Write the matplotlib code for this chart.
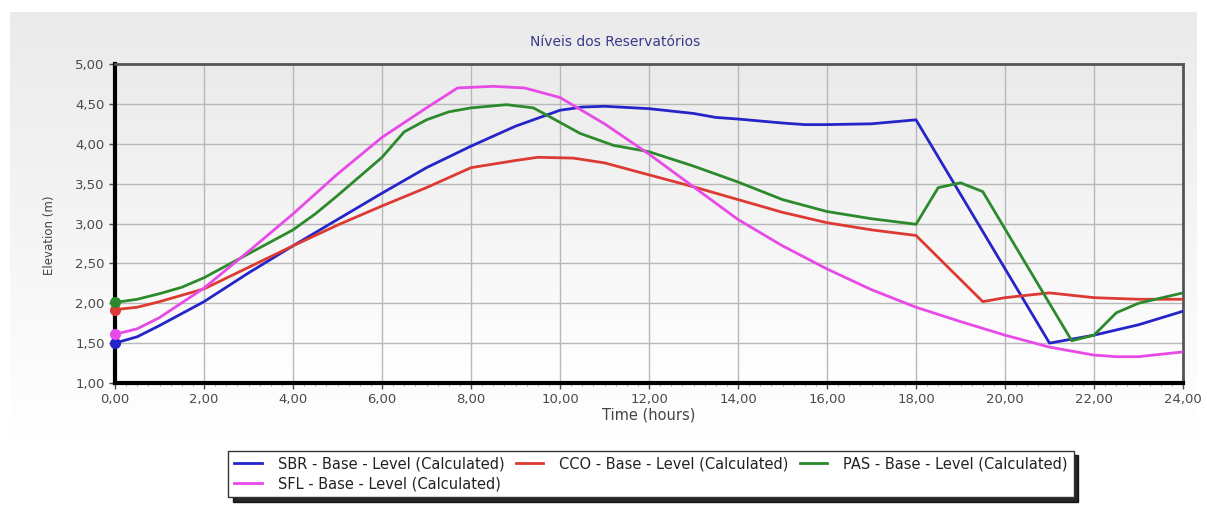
import numpy as np
import matplotlib
matplotlib.use('Agg')
import matplotlib.pyplot as plt
from matplotlib.ticker import FuncFormatter, MultipleLocator

# dados
t_sbr = [0, 0.5, 1, 2, 3, 4, 5, 6, 7, 8, 9, 10, 10.5, 11, 12, 13, 13.5, 14, 15, 15.5, 16, 17, 18, 21, 22, 23, 24]
sbr = [1.50, 1.58, 1.72, 2.02, 2.38, 2.72, 3.05, 3.38, 3.70, 3.97, 4.22, 4.42, 4.46, 4.47, 4.44, 4.38, 4.33, 4.31, 4.26, 4.24, 4.24, 4.25, 4.30, 1.50, 1.60, 1.73, 1.90]

t_cco = [0, 0.5, 1, 2, 3, 4, 5, 6, 7, 8, 9, 9.5, 10.3, 11, 12, 13, 14, 15, 16, 17, 18, 19.5, 20, 21, 22, 23, 24]
cco = [1.92, 1.95, 2.02, 2.18, 2.45, 2.72, 2.98, 3.22, 3.45, 3.70, 3.79, 3.83, 3.82, 3.76, 3.61, 3.46, 3.30, 3.14, 3.01, 2.92, 2.85, 2.02, 2.07, 2.13, 2.07, 2.05, 2.05]

t_pas = [0, 0.5, 1, 1.5, 2, 3, 4, 4.5, 5, 6, 6.5, 7, 7.5, 8, 8.8, 9.4, 9.7, 10.45, 11.2, 12, 13, 14, 15, 16, 17, 18, 18.5, 19, 19.5, 21.5, 22, 22.5, 23, 24]
pas = [2.01, 2.05, 2.12, 2.20, 2.32, 2.62, 2.92, 3.12, 3.35, 3.83, 4.15, 4.30, 4.40, 4.45, 4.49, 4.45, 4.36, 4.13, 3.98, 3.90, 3.72, 3.52, 3.30, 3.15, 3.06, 2.99, 3.45, 3.51, 3.40, 1.53, 1.60, 1.88, 2.00, 2.13]

t_sfl = [0, 0.5, 1, 2, 3, 4, 5, 6, 7, 7.7, 8.5, 9.2, 10, 11, 12, 13, 14, 15, 16, 17, 18, 19, 20, 21, 22, 22.5, 23, 24]
sfl = [1.61, 1.68, 1.82, 2.19, 2.65, 3.12, 3.62, 4.08, 4.45, 4.70, 4.72, 4.70, 4.58, 4.25, 3.87, 3.46, 3.05, 2.72, 2.43, 2.17, 1.95, 1.77, 1.60, 1.45, 1.35, 1.33, 1.33, 1.39]

nomes = ['SBR - Base - Level (Calculated)', 'CCO - Base - Level (Calculated)',
         'PAS - Base - Level (Calculated)', 'SFL - Base - Level (Calculated)']
cores = ['#2424c8', '#dc3a32', '#2c8a2c', '#e84ae8']

plt.rcParams['font.family'] = ['DejaVu Sans']

fig = plt.figure(figsize=(12.07, 5.15), dpi=100)
fig.patch.set_facecolor('white')

# fundo cinza com degrade
bg = fig.add_axes([10 / 1207, 1 - 440 / 515, 1187 / 1207, 428 / 515], zorder=-10)
grad = np.linspace(0.92, 1.0, 256).reshape(-1, 1)
bg.imshow(np.dstack([grad, grad, grad]), aspect='auto', extent=[0, 1, 0, 1])
bg.axis('off')

ax = fig.add_axes([115 / 1207, 1 - 383 / 515, 1068 / 1207, 319 / 515])
ax.set_facecolor('none')
g2 = np.linspace(0.92, 1.0, 256).reshape(-1, 1)
ax.imshow(np.dstack([g2, g2, g2]), aspect='auto', extent=[0, 24, 1, 5], zorder=0)

series = [(t_sbr, sbr), (t_cco, cco), (t_pas, pas), (t_sfl, sfl)]
linhas = []
for (t, v), nome, cor in zip(series, nomes, cores):
    l, = ax.plot(t, v, color=cor, lw=2, label=nome, zorder=3)
    ax.plot(t[0], v[0], 'o', color=cor, ms=7, zorder=5, clip_on=False)
    linhas.append(l)

ax.set_xlim(0, 24)
ax.set_ylim(1, 5)
ax.xaxis.set_major_locator(MultipleLocator(2))
ax.xaxis.set_minor_locator(MultipleLocator(0.25))
ax.yaxis.set_major_locator(MultipleLocator(0.5))
fmt = FuncFormatter(lambda v, p: f'{v:.2f}'.replace('.', ','))
ax.xaxis.set_major_formatter(fmt)
ax.yaxis.set_major_formatter(fmt)
ax.grid(True, which='major', color='#b8b8b8', lw=1, zorder=1)
ax.tick_params(axis='both', which='major', labelsize=9.5, colors='#4a4a4a', length=4, width=1)
ax.tick_params(axis='x', which='minor', length=2, color='#999999')

ax.spines['left'].set_linewidth(3)
ax.spines['bottom'].set_linewidth(3)
ax.spines['left'].set_color('black')
ax.spines['bottom'].set_color('black')
ax.spines['top'].set_linewidth(2)
ax.spines['right'].set_linewidth(2)
ax.spines['top'].set_color('#555555')
ax.spines['right'].set_color('#555555')

fig.text(615 / 1207, 1 - 42 / 515, u'Níveis dos Reservatórios', fontsize=10,
         color='#3a3a8c', ha='center', va='center')
ax.set_xlabel('Time (hours)', fontsize=10.5, color='#444444', labelpad=1)
ax.set_ylabel('Elevation (m)', fontsize=8.5, color='#444444')
ax.yaxis.set_label_coords(-0.055, 0.464)

# ordem para preencher por linha
h = [linhas[0], linhas[3], linhas[1], linhas[2]]
leg = fig.legend(h, [l.get_label() for l in h], ncol=3, loc='center',
                 bbox_to_anchor=(651 / 1207, 1 - 474 / 515),
                 fontsize=10.5, frameon=True, fancybox=False,
                 handlelength=1.9, handletextpad=1.1, columnspacing=0.75,
                 labelspacing=0.35, borderpad=0.4,
                 shadow={'color': 'black', 'alpha': 0.85, 'ox': 3, 'oy': -3})
leg.get_frame().set_edgecolor('#333333')
leg.get_frame().set_linewidth(1)
for t in leg.get_texts():
    t.set_color('#222222')

fig.savefig('out.png', dpi=100)
